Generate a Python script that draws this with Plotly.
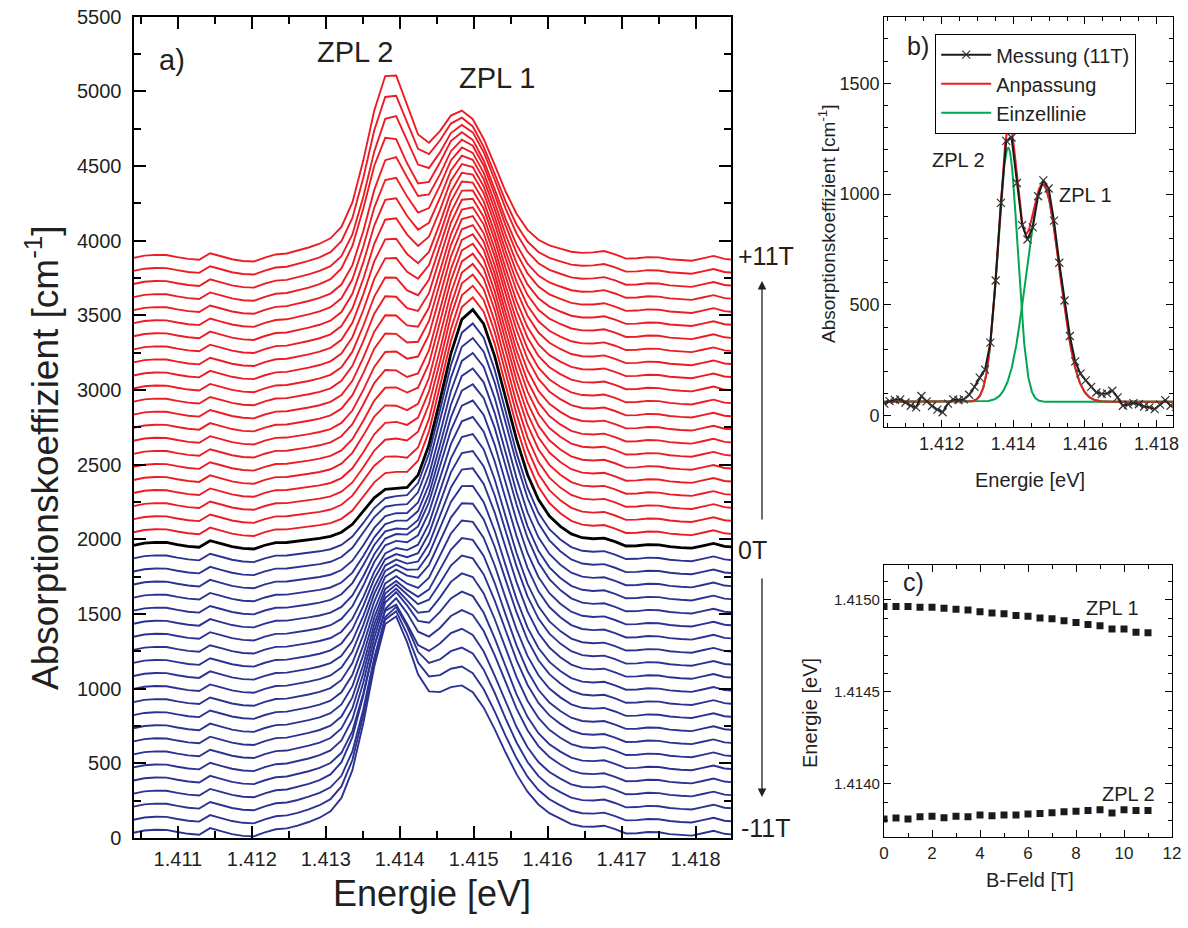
import numpy as np
import plotly.graph_objects as go

# ---------------------------------------------------------------- data
# spectrometer energy grid (eV)
energie = [1.410400, 1.410548, 1.410696, 1.410844, 1.410992, 1.411140, 1.411288, 1.411436,
           1.411584, 1.411732, 1.411880, 1.412028, 1.412176, 1.412324, 1.412472, 1.412620,
           1.412768, 1.412916, 1.413064, 1.413212, 1.413360, 1.413508, 1.413656, 1.413804,
           1.413952, 1.414100, 1.414248, 1.414396, 1.414544, 1.414692, 1.414840, 1.414988,
           1.415136, 1.415284, 1.415432, 1.415580, 1.415728, 1.415876, 1.416024, 1.416172,
           1.416320, 1.416468, 1.416616, 1.416764, 1.416912, 1.417060, 1.417208, 1.417356,
           1.417504, 1.417652, 1.417800, 1.417948, 1.418096, 1.418244, 1.418392, 1.418540]

# background absorption (cm^-1), common to all field values
untergrund = [55, 70, 75, 74, 60, 48, 42, 86, 66, 46, 34, 30, 55, 72, 70, 74,
              78, 80, 80, 78, 72, 68, 65, 62, 60, 60, 60, 60, 60, 60, 60, 60,
              60, 60, 60, 62, 64, 66, 68, 70, 66, 72, 84, 98, 78, 50, 52, 60,
              58, 46, 40, 36, 52, 68, 48, 42]

# measured spectrum at 11 T (cm^-1)
messung_11T = [55, 66, 72, 74, 60, 45, 38, 89, 65, 44, 28, 16, 55, 74, 71, 74,
               95, 130, 172, 208, 330, 610, 960, 1240, 1255, 1050, 860, 795, 850, 990, 1062, 1025,
               880, 690, 520, 360, 245, 190, 160, 130, 105, 98, 101, 113, 83, 45, 50, 57,
               52, 42, 38, 30, 50, 70, 45, 40]

# magnetic field values |B| (T)
b_feld = [0.0, 0.5, 1.0, 1.5, 2.0, 2.5, 3.0, 3.5, 4.0, 4.5, 5.0, 5.5,
          6.0, 6.5, 7.0, 7.5, 8.0, 8.5, 9.0, 9.5, 10.0, 10.5, 11.0]

# line positions (eV)
zpl1_energie = [1.414964, 1.414964, 1.414964, 1.414960, 1.414960, 1.414955, 1.414949, 1.414945,
                1.414936, 1.414929, 1.414925, 1.414916, 1.414911, 1.414902, 1.414898, 1.414887,
                1.414878, 1.414867, 1.414860, 1.414842, 1.414842, 1.414825, 1.414822]
zpl2_energie = [1.413809, 1.413815, 1.413809, 1.413822, 1.413825, 1.413816, 1.413825, 1.413822,
                1.413831, 1.413827, 1.413831, 1.413831, 1.413836, 1.413840, 1.413844, 1.413849,
                1.413851, 1.413855, 1.413860, 1.413842, 1.413860, 1.413855, 1.413855]

# line amplitudes (cm^-1)
zpl1_amplitude = [1575, 1570, 1560, 1548, 1532, 1514, 1494, 1472, 1448, 1423, 1396, 1368,
                  1338, 1307, 1275, 1242, 1208, 1172, 1135, 1097, 1058, 1019, 980]
zpl2_amplitude = [330, 352, 375, 400, 426, 454, 484, 515, 547, 582, 617, 655,
                  693, 734, 775, 819, 864, 910, 958, 1008, 1059, 1112, 1166]

# ZPL1 widths for negative fields (eV): low / high energy flank
zpl1_breite_neg_tief = [0.00042, 0.00043, 0.00044, 0.00044, 0.00045, 0.00046, 0.00047, 0.00048,
                        0.00048, 0.00049, 0.00050, 0.00051, 0.00052, 0.00052, 0.00053, 0.00054,
                        0.00055, 0.00056, 0.00056, 0.00057, 0.00058, 0.00059, 0.00060]
zpl1_breite_neg_hoch = [0.00048, 0.00048, 0.00049, 0.00049, 0.00049, 0.00050, 0.00050, 0.00050,
                        0.00050, 0.00051, 0.00051, 0.00051, 0.00052, 0.00052, 0.00052, 0.00053,
                        0.00053, 0.00053, 0.00054, 0.00054, 0.00054, 0.00055, 0.00055]

# line widths for positive fields (eV, low / high energy flank) and phonon wings
breite = {"zpl1": (0.00042, 0.00048), "zpl2": (0.00030, 0.00028)}
fluegel = {"tief": (1.41310, 0.00035, 0.06), "hoch": (1.41610, 0.00030, 0.03)}

# fit of the 11 T spectrum
fit_untergrund = 63.0
fit_zpl1 = (1.414822, 980.0, 0.00045, 0.00047)
fit_zpl2 = (1.413860, 1146.0, 0.00029, 0.00026)

versatz = 87.5        # vertical shift between neighbouring spectra
versatz0 = -20.0

x_ticks_a = [1.411, 1.412, 1.413, 1.414, 1.415, 1.416, 1.417, 1.418]

# ---------------------------------------------------------------- model
E = np.array(energie)
bg = np.array(untergrund, dtype=float)


def linie(e, c, a, s_low, s_high):
    s = np.where(e < c, s_low, s_high)
    return a * np.exp(-0.5 * ((e - c) / s) ** 2)


def spektrum(e, i, basis, negativ):
    a1, a2 = zpl1_amplitude[i], zpl2_amplitude[i]
    if negativ:
        b1 = (zpl1_breite_neg_tief[i], zpl1_breite_neg_hoch[i])
    else:
        b1 = breite["zpl1"]
    y = basis + linie(e, zpl1_energie[i], a1, *b1)
    y = y + linie(e, zpl2_energie[i], a2, *breite["zpl2"])
    ct, st, ft = fluegel["tief"]
    ch, sh, fh = fluegel["hoch"]
    y = y + ft * a2 * np.exp(-0.5 * ((e - ct) / st) ** 2)
    y = y + fh * a1 * np.exp(-0.5 * ((e - ch) / sh) ** 2)
    return y


ROT = "#ED1C24"
BLAU = "#2B3392"
GRUEN = "#00A651"
FONT = "Liberation Sans, Arial, sans-serif"
TXT = "#231F20"

fig = go.Figure()

n = len(b_feld)
# -11 T ... +11 T: blue for negative fields, red for positive, black for 0 T
reihen = list(range(-(n - 1), n))
ordnung = [k for k in reihen if k < 0] + [k for k in reihen if k > 0] + [0]
for k in ordnung:
    i = abs(k)
    stufe = k + (n - 1)
    y = spektrum(E, i, bg, k < 0) + versatz0 + versatz * stufe
    if k < 0:
        col, w = BLAU, 1.9
    elif k > 0:
        col, w = ROT, 1.9
    else:
        col, w = "black", 2.8
    fig.add_trace(go.Scatter(x=energie, y=y, mode="lines", line=dict(color=col, width=w),
                             showlegend=False, xaxis="x", yaxis="y", hoverinfo="skip"))

# ---------------------------------------------------------------- panel b
Ef = np.linspace(1.4100, 1.4190, 700)
g1 = linie(Ef, *fit_zpl1)
g2 = linie(Ef, *fit_zpl2)

fig.add_trace(go.Scatter(x=Ef, y=fit_untergrund + g2, mode="lines", line=dict(color=GRUEN, width=2),
                         showlegend=False, xaxis="x2", yaxis="y2", hoverinfo="skip"))
fig.add_trace(go.Scatter(x=Ef, y=fit_untergrund + g1, mode="lines", line=dict(color=GRUEN, width=2),
                         name="Einzellinie", legendrank=3, xaxis="x2", yaxis="y2"))
fig.add_trace(go.Scatter(x=Ef, y=fit_untergrund + g1 + g2, mode="lines",
                         line=dict(color=ROT, width=2),
                         name="Anpassung", legendrank=2, xaxis="x2", yaxis="y2"))
fig.add_trace(go.Scatter(x=energie, y=messung_11T, mode="lines+markers",
                         line=dict(color="#1a1a1a", width=2),
                         marker=dict(symbol="x-thin", size=8, color="#333",
                                     line=dict(width=1.2, color="#333")),
                         name="Messung (11T)", legendrank=1, xaxis="x2", yaxis="y2"))

# ---------------------------------------------------------------- panel c
fig.add_trace(go.Scatter(x=b_feld, y=zpl1_energie, mode="markers",
                         marker=dict(symbol="square", size=7, color="#1a1a1a"),
                         showlegend=False, xaxis="x3", yaxis="y3"))
fig.add_trace(go.Scatter(x=b_feld, y=zpl2_energie, mode="markers",
                         marker=dict(symbol="square", size=7, color="#1a1a1a"),
                         showlegend=False, xaxis="x3", yaxis="y3"))

# ---------------------------------------------------------------- layout
W, H = 1188, 928


def px(x):
    return x / W


def py(y):
    return 1 - y / H


def achse(domain, rng, dtick, minor, tl, tml, lw, fs, fmt=None, tick0=None, anchor=None, **kw):
    d = dict(domain=domain, range=rng, dtick=dtick, ticks="inside", ticklen=tl, tickwidth=lw * 0.8,
             tickcolor="black", showline=True, linecolor="black", linewidth=lw, mirror="allticks",
             showgrid=False, zeroline=False, automargin=False,
             tickfont=dict(family=FONT, size=fs, color=TXT),
             minor=dict(dtick=minor, ticks="inside", ticklen=tml, tickcolor="black",
                        tickwidth=lw * 0.7, showgrid=False),
             anchor=anchor)
    if fmt:
        d["tickformat"] = fmt
    if tick0 is not None:
        d["tick0"] = tick0
        d["minor"]["tick0"] = tick0
    d.update(kw)
    return d


fig.update_layout(
    template="none",
    width=W, height=H, margin=dict(l=0, r=0, t=0, b=0, autoexpand=False),
    paper_bgcolor="white", plot_bgcolor="white",
    xaxis=achse([px(133.5), px(731)], [1.41040, 1.41848], 0.001, 0.0005, 12, 7, 2.2, 20,
                fmt=".3f", tick0=1.411, anchor="y", tickvals=x_ticks_a, ticklabelstandoff=2),
    yaxis=achse([py(838), py(16.7)], [0, 5500], 500, 250, 12, 7, 2.2, 20, tick0=0, anchor="x",
                ticklabelstandoff=6),
    xaxis2=achse([px(884.3), px(1172.7)], [1.41040, 1.41845], 0.002, 0.0005, 7, 4, 1.3, 18,
                 fmt=".3f", tick0=1.412, anchor="y2"),
    yaxis2=achse([py(427.3), py(16.7)], [-52, 1800], 500, 100, 7, 4, 1.3, 18, tick0=0, anchor="x2"),
    xaxis3=achse([px(884), px(1172)], [0, 12], 2, 1, 7, 4, 1.3, 17, tick0=0, anchor="y3"),
    yaxis3=achse([py(837.3), py(565)], [1.41371, 1.41519], 0.0005, 0.0001, 7, 4, 1.3, 15,
                 fmt=".4f", tick0=1.414, anchor="x3"),
    legend=dict(x=px(935), y=py(34), xanchor="left", yanchor="top", bgcolor="white",
                bordercolor="black", borderwidth=1.2, font=dict(family=FONT, size=20, color=TXT),
                tracegroupgap=0, itemwidth=50),
    font=dict(family=FONT, color=TXT),
    showlegend=True,
)


def text(t, x, y, size, angle=0):
    return dict(text=t, x=px(x), y=py(y), xref="paper", yref="paper", showarrow=False,
                xanchor="center", yanchor="middle", textangle=angle,
                font=dict(family=FONT, size=size, color=TXT))


ann = [
    text("a)", 172, 60, 29),
    text("ZPL 2", 355, 52, 29),
    text("ZPL 1", 497, 78, 29),
    text("+11T", 766, 256, 25),
    text("0T", 752, 550, 25),
    text("-11T", 766, 828, 25),
    text("Absorptionskoeffizient [cm<sup>-1</sup>]", 42, 458, 37, -90),
    text("Energie [eV]", 432, 893, 36),
    text("b)", 918, 46, 25),
    text("ZPL 2", 958, 160, 20),
    text("ZPL 1", 1085, 195, 20),
    text("Absorptionskoeffizient [cm<sup>-1</sup>]", 827, 224, 19, -90),
    text("Energie [eV]", 1030, 480, 20),
    text("c)", 913, 582, 25),
    text("ZPL 1", 1112, 608, 20),
    text("ZPL 2", 1128, 794, 20),
    text("Energie [eV]", 810, 713, 20, -90),
    text("B-Feld [T]", 1030, 880, 20),
]
# field direction arrows
ann.append(dict(x=px(762), y=py(281), xref="paper", yref="paper", ax=0, ay=240, text="",
                showarrow=True, arrowhead=2, arrowsize=1.3, arrowwidth=1.3, arrowcolor="#231F20"))
ann.append(dict(x=px(762), y=py(797), xref="paper", yref="paper", ax=0, ay=-220, text="",
                showarrow=True, arrowhead=2, arrowsize=1.3, arrowwidth=1.3, arrowcolor="#231F20"))
fig.update_layout(annotations=ann)

fig.write_html("out.html")
